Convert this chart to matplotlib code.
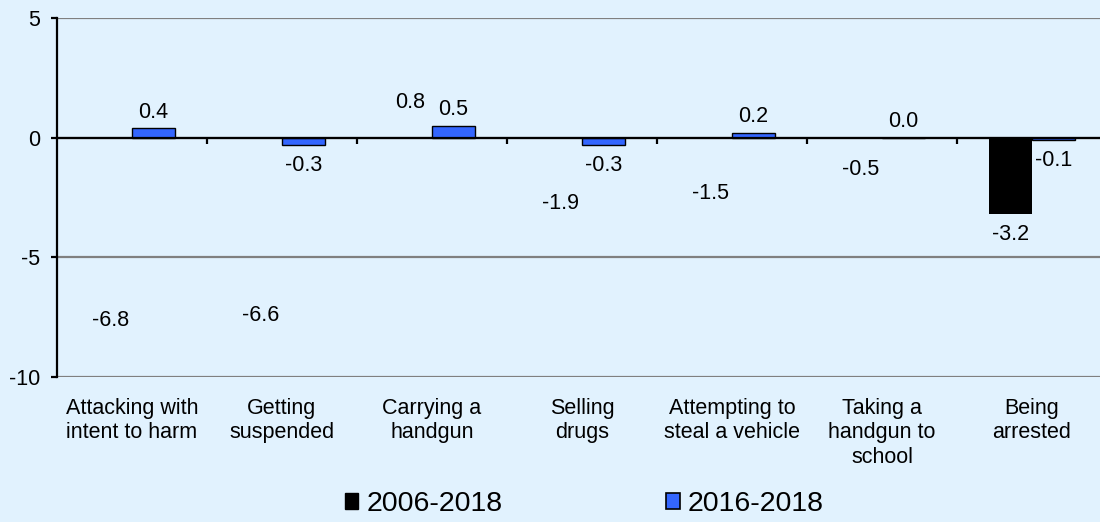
import matplotlib
matplotlib.use("Agg")
import matplotlib.pyplot as plt
from matplotlib.patches import Rectangle
import numpy as np

plt.rcParams['font.family'] = ['Liberation Sans', 'DejaVu Sans']

categories = ["Attacking with\nintent to harm", "Getting\nsuspended", "Carrying a\nhandgun",
              "Selling\ndrugs", "Attempting to\nsteal a vehicle", "Taking a\nhandgun to\nschool",
              "Being\narrested"]
series_names = ["2006-2018", "2016-2018"]
vals_2006 = [-6.8, -6.6, 0.8, -1.9, -1.5, -0.5, -3.2]
vals_2016 = [0.4, -0.3, 0.5, -0.3, 0.2, 0.0, -0.1]
y_ticks = [5, 0, -5, -10]

BG = '#E1F2FE'
BLUE = '#3366FF'
GRID = '#808080'
FS = 15.5

fig = plt.figure(figsize=(11, 5.22), dpi=100)
fig.patch.set_facecolor(BG)
ax = fig.add_axes([57/1100, 1-377/522, 1050/1100, 359/522])
ax.set_facecolor(BG)

n = len(categories)
x = np.arange(n)
w = 0.287
# only the last bar of the first series is visible in the original
black_colors = [(0, 0, 0, 0)]*(n-1) + ['black']
ax.bar(x - w/2, vals_2006, width=w, color=black_colors, edgecolor='none', zorder=3)
ax.bar(x + w/2, vals_2016, width=w, color=BLUE, edgecolor='black', linewidth=1.0, zorder=3)

def label(xs, vals):
    for xi, v in zip(xs, vals):
        if v >= 0:
            ax.annotate(f"{v:.1f}", (xi, v), xytext=(0, 4), textcoords='offset points',
                        ha='center', va='bottom', fontsize=FS, zorder=5)
        else:
            ax.annotate(f"{v:.1f}", (xi, v), xytext=(0, -7), textcoords='offset points',
                        ha='center', va='top', fontsize=FS, zorder=5)

label(x - w/2, vals_2006)
label(x + w/2, vals_2016)

ax.set_xlim(-0.5, n - 0.5)
ax.set_ylim(-10, 5)
ax.set_yticks(y_ticks)
ax.set_yticklabels([str(t) for t in y_ticks])
ax.yaxis.grid(True, color=GRID, linewidth=1.6, zorder=0)
ax.set_axisbelow(True)

for s in ['top', 'right']:
    ax.spines[s].set_visible(False)
ax.spines['left'].set_color('black')
ax.spines['left'].set_linewidth(1.6)
ax.spines['bottom'].set_position(('data', 0))
ax.spines['bottom'].set_color('black')
ax.spines['bottom'].set_linewidth(1.6)
ax.spines['bottom'].set_zorder(4)

ax.set_xticks(np.arange(0.5, n - 0.5, 1.0))
ax.set_xticklabels([])
ax.tick_params(axis='x', direction='out', length=4, width=1.6, color='black')
ax.tick_params(axis='y', direction='out', length=4, width=1.6, color='black',
               labelsize=FS, pad=8)

for xi, c in zip(x, categories):
    ax.text(xi, -0.059, c, transform=ax.get_xaxis_transform(), ha='center', va='top',
            fontsize=FS, linespacing=1.2)

handles = [Rectangle((0, 0), 1, 1, facecolor='black', edgecolor='black'),
           Rectangle((0, 0), 1, 1, facecolor=BLUE, edgecolor='black', linewidth=1.2)]
fig.legend(handles, series_names, loc='center', bbox_to_anchor=(0.531, 0.034), ncol=2,
           frameon=False, fontsize=20.5, handlelength=0.48, handleheight=0.48,
           handletextpad=0.27, columnspacing=5.75, borderaxespad=0, borderpad=0)

fig.savefig("out.png", dpi=100, facecolor=BG)
